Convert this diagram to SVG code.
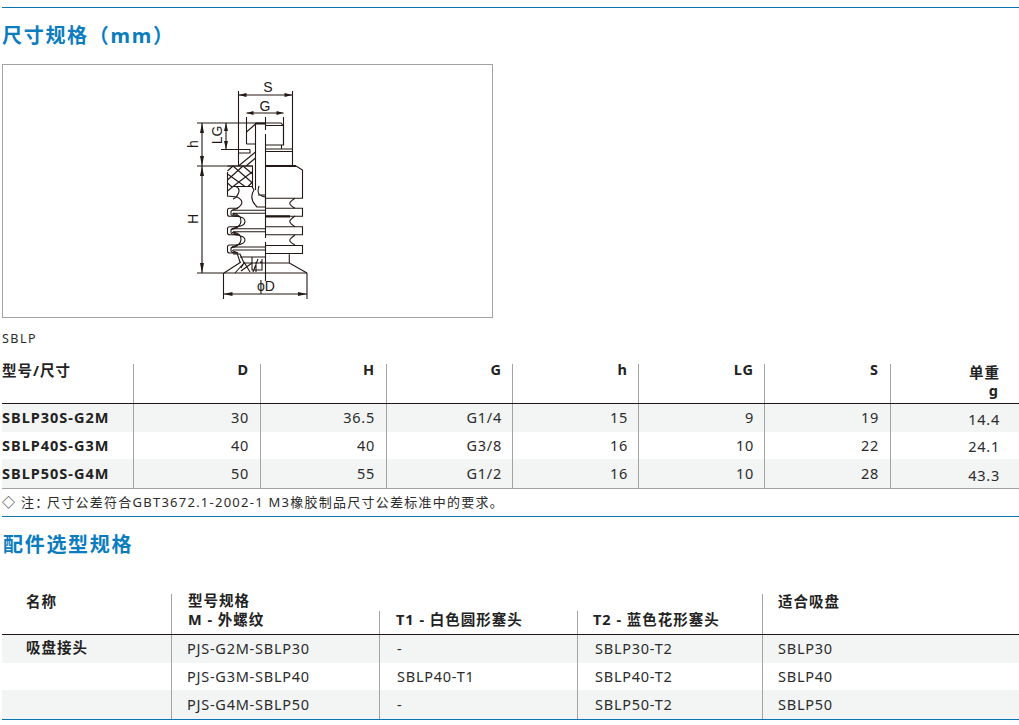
<svg xmlns="http://www.w3.org/2000/svg" width="1019" height="725" viewBox="0 0 1019 725">
<defs>
<g id="ring-left">
<path d="M238 0H229.500Q227.500 0 227.500 2V6Q227.500 8 229.500 8H236"/>
<path d="M238 8Q231 8 231 6V3Q231 2 233 2H265.500M233 5H265.500"/>
<path d="M232 2L238 0M232 5.500L238 8"/>
</g>
<g id="ring-right">
<path d="M265.500 0H302.500V8H265.500"/>
</g>
</defs>
<style>
text{font-family:"Noto Sans","Noto Sans CJK SC",sans-serif;fill:#2b2b2b;font-size:14.5px;letter-spacing:.75px}
.h{font-size:20px;font-weight:700;fill:#0a7cc0;letter-spacing:1.7px}
.b{font-weight:700;fill:#222;letter-spacing:1px}
.r{text-anchor:end}
.d{font-size:14px;fill:#231815;letter-spacing:0;font-family:"Liberation Sans",sans-serif}
.v{stroke:#a3a3a3;stroke-width:1;fill:none}
.k{stroke:#231815;stroke-width:1.100;fill:none}
.t{stroke:#231815;stroke-width:2.200;fill:none}
.a{fill:#231815}
.hl{stroke:#231815;stroke-width:1.200}
.bl{stroke:#0a74b0;stroke-width:1.200}
.z{fill:#f2f5f4}
</style>
<g id="section-dimensions">
<line class="bl" x1="2" y1="7.500" x2="1019" y2="7.500"/>
<text class="h" x="2" y="43">尺寸规格（mm）</text>
</g>
<g id="drawing">
<rect x="2.500" y="64.500" width="490" height="253" fill="#fff" stroke="#a3a3a3"/>
<g class="k">
<path d="M238.500 91V166M292.500 91V166M246.500 117V144M283.500 117V145"/>
<path d="M238.500 95H292.500M246.500 113H283.500"/>
<path d="M197 123H281L283.500 126M221 149.500H250M197 166H252.500M197 273H307"/>
<path d="M202 123V273M226 123V149"/>
<path d="M223.500 273V299M307 273V299M223.500 294H307"/>
<path d="M265.500 117V130M265.500 134V238M265.500 242V281"/>
<path d="M255.500 123V190M265.500 125.500H283.500V145H265.500M246.500 144H255.500M246.500 132L255.500 124M281.500 145V149M265.500 149H292.500M265.500 151.500H292.500"/>
<path d="M238.500 153H250V149.500M238.500 166L255.500 152M246 166L255.500 158"/>
<path d="M296 166L302.500 170V198.300H265.500"/>
<path d="M295 198.300C288 203 288 204 295 208.300M295 216C288 221 288 222 295 226.700M295 235C288 240 288 241 295 245"/>
<path d="M289.300 254.300V263H243M289.300 263L307 273M265.500 257H240M252 257V270H262V259M256 262V272M253 272L258 259M262 262H260"/>
<path d="M227.500 166H252.500V186.500H233L227.500 191V172"/>
<path d="M233 166L252.500 183M243 166L252.500 174M227.500 174L245 186.500M227.500 183L232 187M252 172L233 186.500M243 166L227.500 180M233 166L227.500 171M252.500 182L248 186.500"/>
<path d="M227.500 191V196L237 197C243 200 244 204 237 208.300"/>
<path d="M236 186.500C243 190 236 198 233 199M252 186.500L254 190C250 196 252 202 257 207H265.500M259 186C257 192 258 196 265.500 197V204M258 195H265.500"/>
<use href="#ring-left" y="208.300"/><use href="#ring-left" y="226.700"/><use href="#ring-left" y="245"/>
<use href="#ring-right" y="208.300"/><use href="#ring-right" y="226.700"/><use href="#ring-right" y="245.500"/>
<path d="M236 216.300C248 217 248 226 236 226.700M233 213.300C244 215 244 227 231 229.500M236 235C248 236 248 244 236 245M233 232C244 234 244 245 231 248"/>
<path d="M233 254H240L244 263L241 268M237 253L240 262M224 273L241 262M235 273L244 263M244 262L250 272M241 271L252 263"/>
</g>
<path class="t" d="M255.500 123.500H265.500M265.500 166H296M265.500 216.300H290"/>
<path class="a" d="M238.500 95l8-2v4zM292.500 95l-8-2v4zM246.500 113l7-2v4zM283.500 113l-7-2v4zM202 123l-2 10h4zM202 166l-2-10h4zM202 166l-2 10h4zM202 273l-2-10h4zM226 123l-2 8h4zM226 149l-2-8h4zM223.500 294l9-2v4zM307 294l-9-2v4z"/>
<text class="d" x="268" y="92" text-anchor="middle">S</text>
<text class="d" x="265" y="111" text-anchor="middle">G</text>
<text class="d" text-anchor="middle" transform="translate(222 135) rotate(-90)">LG</text>
<text class="d" text-anchor="middle" transform="translate(198 144) rotate(-90)">h</text>
<text class="d" text-anchor="middle" transform="translate(198 219) rotate(-90)">H</text>
<text class="d" x="266" y="291" text-anchor="middle">ϕD</text>
</g>
<text x="2" y="343" style="font-size:12.500px;letter-spacing:1.500px">SBLP</text>
<g id="table-sizes">
<rect class="z" x="2" y="404" width="1017" height="28"/>
<rect class="z" x="2" y="459" width="1017" height="29"/>
<path class="v" d="M133.500 364V488M260.500 364V488M386.500 364V488M512.500 364V488M638.500 364V488M764.500 364V488M890.500 364V488"/>
<line class="hl" x1="2" y1="403.500" x2="1019" y2="403.500"/>
<line class="v" x1="2" y1="488.500" x2="1019" y2="488.500"/>
<text class="b" x="2" y="376">型号/尺寸</text>
<text class="b r" x="249" y="375">D</text><text class="b r" x="375" y="375">H</text><text class="b r" x="502" y="375">G</text><text class="b r" x="628" y="375">h</text><text class="b r" x="754" y="375">LG</text><text class="b r" x="879" y="375">S</text><text class="b r" x="1000" y="378">单重</text><text class="b r" x="999" y="396">g</text>
<text class="b" x="2" y="423">SBLP30S-G2M</text><text class="b" x="2" y="451">SBLP40S-G3M</text><text class="b" x="2" y="479">SBLP50S-G4M</text>
<text class="r" x="249" y="423">30</text><text class="r" x="375" y="423">36.5</text><text class="r" x="502" y="423">G1/4</text><text class="r" x="628" y="423">15</text><text class="r" x="754" y="423">9</text><text class="r" x="879" y="423">19</text><text class="r" x="1000" y="425">14.4</text>
<text class="r" x="249" y="451">40</text><text class="r" x="375" y="451">40</text><text class="r" x="502" y="451">G3/8</text><text class="r" x="628" y="451">16</text><text class="r" x="754" y="451">10</text><text class="r" x="879" y="451">22</text><text class="r" x="1000" y="452">24.1</text>
<text class="r" x="249" y="479">50</text><text class="r" x="375" y="479">55</text><text class="r" x="502" y="479">G1/2</text><text class="r" x="628" y="479">16</text><text class="r" x="754" y="479">10</text><text class="r" x="879" y="479">28</text><text class="r" x="1000" y="481">43.3</text>
<text x="2" y="507" style="font-size:13px;letter-spacing:1.250px">◇ 注：<tspan x="47">尺寸公差符合GBT3672.1-2002-1 M3橡胶制品尺寸公差标准中的要求。</tspan></text>
</g>
<g id="section-accessories">
<line class="bl" x1="2" y1="516.500" x2="1019" y2="516.500"/>
<text class="h" x="3" y="552">配件选型规格</text>
</g>
<g id="table-accessories">
<rect class="z" x="2" y="635" width="1017" height="28"/>
<rect class="z" x="2" y="690" width="1017" height="29"/>
<path class="v" d="M171.500 594V719M379.500 611V719M577.500 611V719M762.500 594V719"/>
<line class="hl" x1="2" y1="634.500" x2="1019" y2="634.500"/>
<line class="bl" x1="2" y1="719.500" x2="1019" y2="719.500"/>
<text class="b" x="26" y="607">名称</text><text class="b" x="188" y="606">型号规格</text><text class="b" x="188" y="625">M - 外螺纹</text><text class="b" x="396" y="625">T1 - 白色圆形塞头</text><text class="b" x="593" y="625">T2 - 蓝色花形塞头</text><text class="b" x="778" y="607">适合吸盘</text>
<text class="b" x="26" y="653">吸盘接头</text>
<text x="187" y="654">PJS-G2M-SBLP30</text><text x="397" y="654">-</text><text x="595" y="654">SBLP30-T2</text><text x="778" y="654">SBLP30</text>
<text x="187" y="682">PJS-G3M-SBLP40</text><text x="397" y="682">SBLP40-T1</text><text x="595" y="682">SBLP40-T2</text><text x="778" y="682">SBLP40</text>
<text x="187" y="710">PJS-G4M-SBLP50</text><text x="397" y="710">-</text><text x="595" y="710">SBLP50-T2</text><text x="778" y="710">SBLP50</text>
</g>
</svg>
